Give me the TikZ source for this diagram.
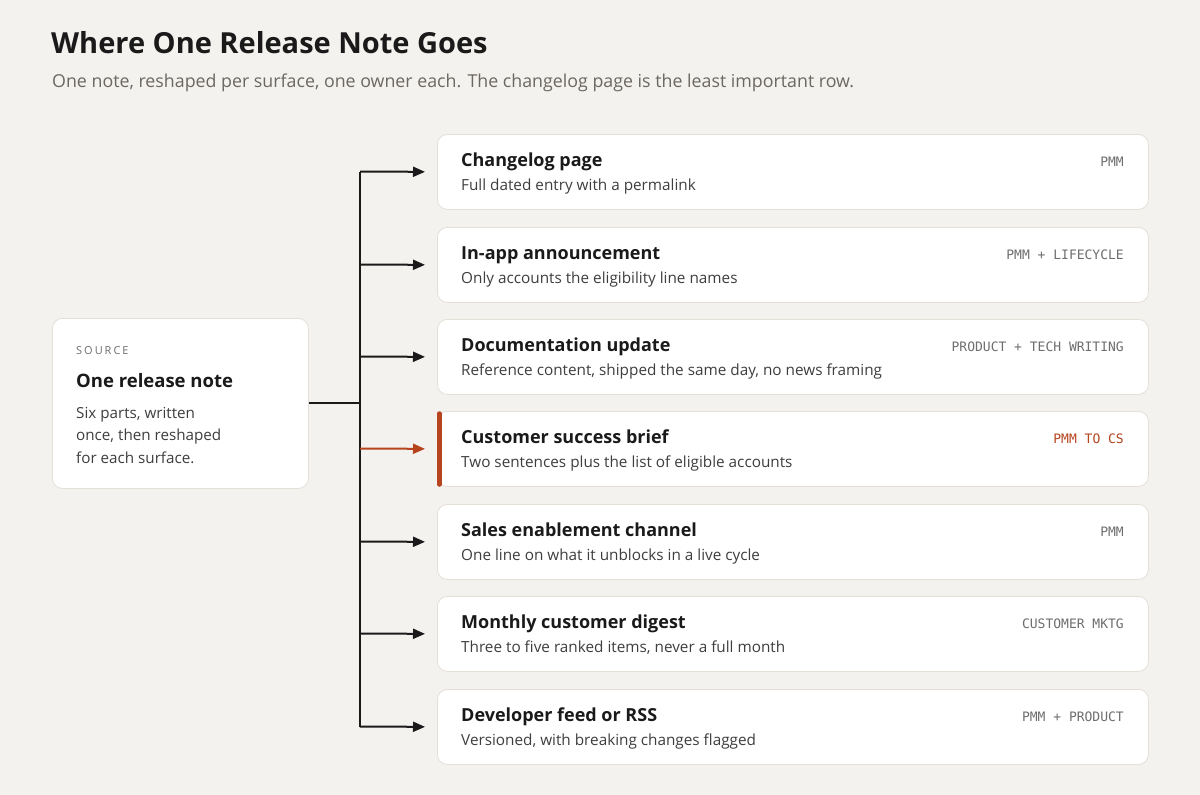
\documentclass[tikz,border=0pt]{standalone}
\usepackage{fontspec}
\setmainfont{Open Sans}
\setmonofont{DejaVu Sans Mono}
\usetikzlibrary{arrows.meta}
\definecolor{bgc}{HTML}{F4F2EE}
\definecolor{ink}{HTML}{1A1A1A}
\definecolor{sub}{HTML}{6B6863}
\definecolor{bordc}{HTML}{E4E0D8}
\definecolor{body}{HTML}{3E3E3E}
\definecolor{tagc}{HTML}{6E6E6E}
\definecolor{accent}{HTML}{B5441F}
\tikzset{
  card/.style={draw=bordc, line width=0.8pt, fill=white, rounded corners=10pt, minimum width=711pt, minimum height=75pt, anchor=north west, inner sep=0pt},
  cardtitle/.style={anchor=base west, inner sep=0pt, text=ink, font=\fontsize{18}{22}\selectfont\bfseries},
  cardsub/.style={anchor=base west, inner sep=0pt, text=body, font=\fontsize{15.3}{18}\selectfont},
  cardtag/.style={anchor=base east, inner sep=0pt, text=tagc, font=\fontsize{13}{15}\ttfamily},
  conn/.style={draw=ink, line width=2pt},
  arr/.style={conn, -{Triangle[length=12pt,width=10pt]}, shorten >=12pt}
}
\begin{document}
\begin{tikzpicture}[x=1pt,y=-1pt]
\fill[bgc] (0,0) rectangle (1200,795);
\useasboundingbox (0,0) rectangle (1200,795);
\node[anchor=base west, inner sep=0pt, text=ink, font=\fontsize{29}{34}\selectfont\bfseries] (title) at (51,53) {Where One Release Note Goes};
\node[anchor=base west, inner sep=0pt, text=sub, font=\fontsize{17.8}{20}\selectfont] (subtitle) at (52,87) {One note, reshaped per surface, one owner each. The changelog page is the least important row.};
% source
\node[draw=bordc, line width=0.8pt, fill=white, rounded corners=10pt, minimum width=256pt, minimum height=170pt, anchor=north west, inner sep=0pt] (src) at (52,318) {};
\node[anchor=west, inner sep=0pt, text=tagc, font=\fontsize{11}{13}\selectfont\addfontfeatures{LetterSpace=18}] (srclab) at (76,351) {SOURCE};
\node[anchor=west, inner sep=0pt, text=ink, font=\fontsize{18.5}{22}\selectfont\bfseries] (srctitle) at (76,381) {One release note};
\node[anchor=north west, inner sep=0pt, text=body, align=left, font=\fontsize{15.2}{22.5}\selectfont] (srcbody) at (76,407) {Six parts, written\\once, then reshaped\\for each surface.};
% cards
\foreach \i/\y/\t/\s/\g in {
 1/134/Changelog page/Full dated entry with a permalink/PMM,
 2/227/In-app announcement/Only accounts the eligibility line names/PMM + LIFECYCLE,
 3/319/Documentation update/{Reference content, shipped the same day, no news framing}/PRODUCT + TECH WRITING,
 4/411/Customer success brief/Two sentences plus the list of eligible accounts/PMM TO CS,
 5/504/Sales enablement channel/One line on what it unblocks in a live cycle/PMM,
 6/596/Monthly customer digest/{Three to five ranked items, never a full month}/CUSTOMER MKTG,
 7/689/Developer feed or RSS/{Versioned, with breaking changes flagged}/PMM + PRODUCT}{
  \node[card] (c\i) at (437,\y) {};
  \node[cardtitle] (ct\i) at (461,\y+32) {\t};
  \node[cardsub] (cs\i) at (461,\y+56) {\s};
  \ifnum\i=4
    \node[cardtag, text=accent] (cg\i) at (1124,\y+32) {\g};
  \else
    \node[cardtag] (cg\i) at (1124,\y+32) {\g};
  \fi
  \coordinate (t\i) at (360,\y+37.5);
}
% accent bar
\draw[accent, line width=4.5pt, line cap=round] (439.5,413.5) -- (439.5,484.5);
% connectors
\draw[conn] (src.east) -- (src.east -| t1);
\draw[conn] (t1) -- (t7);
\foreach \i in {1,2,3,5,6,7}{
  \draw[arr] (t\i) -- (c\i.west);
}
\draw[arr, draw=accent, fill=accent] (t4) -- (c4.west);
\end{tikzpicture}
\end{document}
